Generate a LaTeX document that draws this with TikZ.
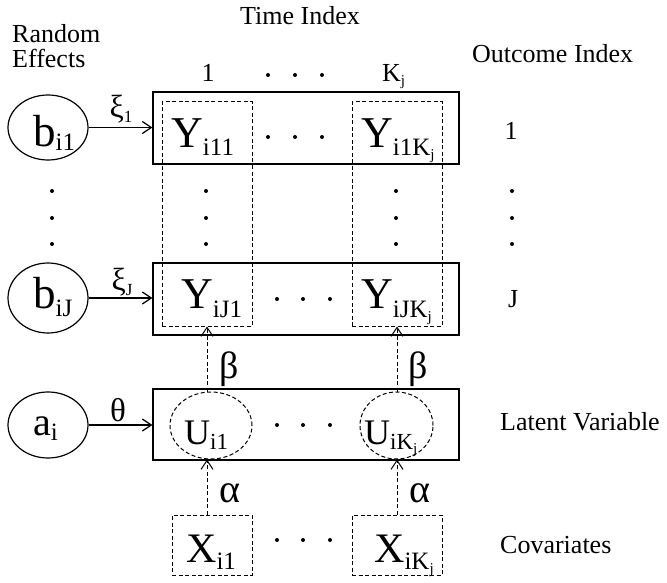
\documentclass[tikz,border=0pt]{standalone}
\usepackage{fontspec}
\setmainfont{Liberation Serif}
\usetikzlibrary{arrows.meta,shapes.geometric}
\newcommand{\Sz}[1]{\fontsize{#1}{#1}\selectfont}
\newcommand{\Lsub}[5]{{\Sz{#1}#2}\raisebox{#4}{\Sz{#5}#3}}
\newcommand{\Kj}{K\raisebox{-4pt}{\Sz{15}j}}
\begin{document}
\begin{tikzpicture}[x=1pt,y=-1pt,
  lbl/.style={font=\Sz{26}, inner sep=0pt, anchor=base west},
  sym/.style={inner sep=0pt, anchor=base west},
  greek/.style={inner sep=0pt, anchor=center},
  solidbox/.style={draw, line width=1.2pt, rectangle, inner sep=0pt},
  dbox/.style={draw, line width=1pt, dash pattern=on 4pt off 2.5pt, rectangle, inner sep=0pt},
  oval/.style={draw, line width=1.2pt, ellipse, inner sep=0pt},
  doval/.style={draw, line width=1pt, dash pattern=on 4pt off 2.5pt, ellipse, inner sep=0pt},
  sarr/.style={line width=1.2pt, -{Straight Barb[length=9pt,width=12pt]}},
  darr/.style={line width=1pt, dash pattern=on 4pt off 2.5pt, -{Straight Barb[length=9pt,width=12pt,line width=1pt]}},
  dotr/.style={radius=2pt}]
\useasboundingbox (0,0) rectangle (667,583);

% headings
\node[lbl] (rand) at (12,43) {Random};
\node[lbl] (eff) at (12,68) {Effects};
\node[lbl] (time) at (240,25) {Time Index};
\node[lbl] (outc) at (472,63) {Outcome Index};
\node[lbl] (lat) at (500,430) {Latent Variable};
\node[lbl] (cov) at (500,553) {Covariates};
\node[lbl] (t1) at (201.5,82) {1};
\node[lbl] (tK) at (382,82) {\Kj};
\node[lbl] (o1) at (504.5,140) {1};
\node[lbl] (oJ) at (508,307) {J};

% row boxes
\node[solidbox, minimum width=306pt, minimum height=72pt] (row1) at (306,128) {};
\node[solidbox, minimum width=306pt, minimum height=72pt] (rowJ) at (306,299) {};
\node[solidbox, minimum width=306pt, minimum height=71pt] (rowU) at (306,424.5) {};

% dashed columns
\node[dbox, minimum width=90pt, minimum height=224pt] (col1) at (207,214) {};
\node[dbox, minimum width=90pt, minimum height=224pt] (colK) at (397,214) {};

% covariate boxes
\node[dbox, minimum width=80pt, minimum height=60pt] (X1) at (212,545) {};
\node[dbox, minimum width=90pt, minimum height=60pt] (XK) at (397,545) {};

% latent ellipses
\node[doval, minimum width=82pt, minimum height=67pt] (U1) at (211,425.5) {};
\node[doval, minimum width=73pt, minimum height=67pt] (UK) at (396.5,425.5) {};

% random effect ellipses
\node[oval, minimum width=80pt, minimum height=65pt] (b1) at (48,127.5) {};
\node[oval, minimum width=80pt, minimum height=70pt] (bJ) at (48,298) {};
\node[oval, minimum width=80pt, minimum height=66pt] (a) at (48,425) {};

% symbols
\node[sym] (tb1) at (33,147) {\Lsub{45}{b}{i1}{-4pt}{25}};
\node[sym] (tbJ) at (33,308) {\Lsub{45}{b}{iJ}{-8pt}{25}};
\node[sym] (ta) at (33,435) {\Lsub{40}{a}{i}{-5pt}{25}};
\node[sym] (tY11) at (171,148) {\Lsub{44}{Y}{i11}{-8pt}{25}};
\node[sym] (tY1K) at (361,148) {\Lsub{44}{Y}{i1\Kj}{-8pt}{25}};
\node[sym] (tYJ1) at (181,308) {\Lsub{44}{Y}{iJ1}{-9pt}{25}};
\node[sym] (tYJK) at (361,308) {\Lsub{44}{Y}{iJ\Kj}{-9pt}{25}};
\node[sym] (tU1) at (184,444) {\Lsub{36}{U}{i1}{-5pt}{23}};
\node[sym] (tUK) at (364,444) {\Lsub{36}{U}{i\Kj}{-5pt}{23}};
\node[sym] (tX1) at (186,562) {\Lsub{42}{X}{i1}{-7pt}{25}};
\node[sym] (tXK) at (374,562) {\Lsub{42}{X}{i\Kj}{-7pt}{25}};

% greek labels
\node[greek] (xi1) at (121,109) {\Sz{32}ξ\raisebox{-5pt}{\Sz{17}1}};
\node[greek] (xiJ) at (122,282) {\Sz{32}ξ\raisebox{-5pt}{\Sz{17}J}};
\node[greek] (th) at (118,410) {\Sz{33}θ};
\node[greek] (be1) at (229,369) {\Sz{38}β};
\node[greek] (beK) at (418,369) {\Sz{38}β};
\node[greek] (al1) at (230,493) {\Sz{40}α};
\node[greek] (alK) at (420,493) {\Sz{40}α};

% connectors
\coordinate (c1) at (207,0);
\coordinate (cK) at (397,0);
\draw[sarr] (b1.east) -- (b1.east -| row1.west);
\draw[sarr] (bJ.east) -- (bJ.east -| rowJ.west);
\draw[sarr] (a.east) -- (a.east -| rowU.west);
\draw[darr] (U1.north -| c1) -- (col1.south -| c1);
\draw[darr] (UK.north -| cK) -- (colK.south -| cK);
\draw[darr] (X1.north -| c1) -- (U1.south -| c1);
\draw[darr] (XK.north -| cK) -- (UK.south -| cK);

% dots
\foreach \x in {268,295,322} {\fill (\x,75) circle[dotr]; \fill (\x,137) circle[dotr];}
\foreach \x in {277,303,330} {\fill (\x,299) circle[dotr]; \fill (\x,425) circle[dotr]; \fill (\x,540) circle[dotr];}
\foreach \x in {52,206,396,512} {\foreach \y in {191,218,244} {\fill (\x,\y) circle[dotr];}}
\end{tikzpicture}
\end{document}
